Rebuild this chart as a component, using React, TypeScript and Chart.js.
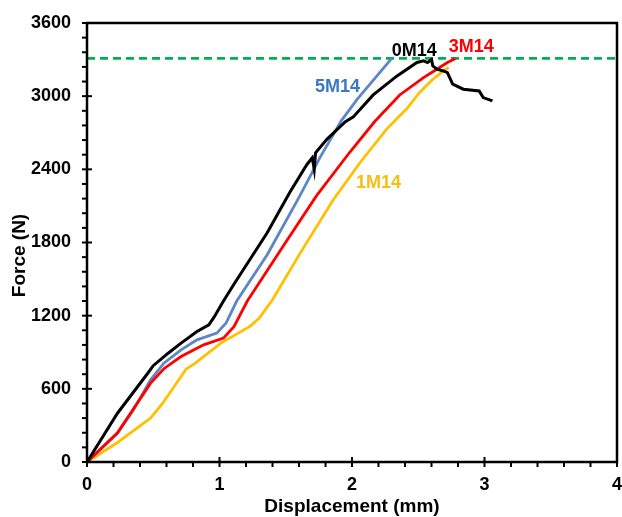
import React, { useEffect, useRef } from 'react';
import { Chart, registerables } from 'chart.js';

Chart.register(...registerables);

// ---- Data (displacement in mm, force in N) ----
const disp0M14 = [0, 0.23, 0.46, 0.5, 0.61, 0.71, 0.83, 0.92, 0.96, 1.03, 1.11, 1.36, 1.53, 1.66, 1.7, 1.715, 1.725, 1.81, 1.95, 2.01, 2.16, 2.34, 2.49, 2.54, 2.57, 2.6, 2.61, 2.64, 2.69, 2.72, 2.76, 2.84, 2.96, 2.99, 3.06];
const force0M14 = [0, 400, 730, 790, 890, 975, 1070, 1125, 1190, 1320, 1460, 1880, 2210, 2440, 2495, 2400, 2536, 2646, 2790, 2830, 3010, 3166, 3276, 3290, 3276, 3300, 3248, 3221, 3207, 3193, 3098, 3057, 3043, 2988, 2961];

const disp5M14 = [0, 0.23, 0.35, 0.48, 0.58, 0.71, 0.83, 0.98, 1.05, 1.13, 1.36, 1.6, 1.76, 1.92, 2.04, 2.3];
const force5M14 = [0, 236, 427, 674, 810, 920, 1002, 1057, 1140, 1320, 1700, 2170, 2500, 2800, 2975, 3310];

const disp3M14 = [0, 0.23, 0.48, 0.58, 0.71, 0.88, 1.03, 1.11, 1.21, 1.48, 1.73, 1.98, 2.17, 2.36, 2.54, 2.64, 2.72, 2.78];
const force3M14 = [0, 240, 647, 765, 865, 961, 1016, 1112, 1320, 1769, 2180, 2536, 2790, 3010, 3152, 3221, 3276, 3309];

const disp1M14 = [0, 0.23, 0.48, 0.57, 0.75, 0.81, 1.01, 1.23, 1.3, 1.4, 1.61, 1.86, 2.06, 2.26, 2.36, 2.41, 2.51, 2.61, 2.69, 2.73];
const force1M14 = [0, 160, 360, 480, 765, 805, 975, 1112, 1180, 1330, 1715, 2153, 2454, 2728, 2840, 2892, 3030, 3139, 3207, 3235];

const thresholdForce = 3310;
const xRange = [0, 4];
const yRange = [0, 3600];
const xStep = 1;
const yStep = 600;
const xMinorStep = 0.2;
const yMinorStep = 120;

const seriesNames = ['0M14', '3M14', '5M14', '1M14'];
const labelX = [2.47, 2.9, 1.89, 2.2];
const labelY = [3370, 3400, 3075, 2290];

const xTitle = 'Displacement (mm)';
const yTitle = 'Force (N)';

const FONT = "'Liberation Sans', Arial, Helvetica, sans-serif";

export default function App() {
  const ref = useRef<HTMLCanvasElement>(null);

  useEffect(() => {
    document.body.style.margin = '0';
    const canvas = ref.current;
    if (!canvas) return;

    const pts = (xs: number[], ys: number[]) => xs.map((x, i) => ({ x, y: ys[i] }));

    const lineColors = ['#000000', '#ff0000', '#5b87c5', '#ffc000'];
    const labelColors = ['#000000', '#ff0000', '#3a78c4', '#f7bd14'];

    const decor = {
      id: 'decor',
      afterDraw(chart: any) {
        const { ctx, chartArea: a, scales } = chart;
        const x = scales.x;
        const y = scales.y;
        ctx.save();
        // frame
        ctx.strokeStyle = '#000';
        ctx.lineWidth = 2.5;
        ctx.strokeRect(a.left, a.top, a.right - a.left, a.bottom - a.top);
        // ticks
        ctx.lineWidth = 2;
        const nx = Math.round((xRange[1] - xRange[0]) / xMinorStep);
        const perMajorX = Math.round(xStep / xMinorStep);
        for (let i = 0; i <= nx; i++) {
          const px = x.getPixelForValue(xRange[0] + i * xMinorStep);
          const major = i % perMajorX === 0;
          ctx.beginPath();
          ctx.moveTo(px, a.bottom + 5);
          ctx.lineTo(px, major ? a.bottom - 5 : a.bottom);
          ctx.stroke();
        }
        const ny = Math.round((yRange[1] - yRange[0]) / yMinorStep);
        const perMajorY = Math.round(yStep / yMinorStep);
        for (let i = 0; i <= ny; i++) {
          const py = y.getPixelForValue(yRange[0] + i * yMinorStep);
          const major = i % perMajorY === 0;
          ctx.beginPath();
          ctx.moveTo(a.left - 5, py);
          ctx.lineTo(major ? a.left + 5 : a.left, py);
          ctx.stroke();
        }
        // series labels
        ctx.font = `bold 18px ${FONT}`;
        ctx.textAlign = 'center';
        ctx.textBaseline = 'middle';
        seriesNames.forEach((name, i) => {
          ctx.fillStyle = labelColors[i];
          ctx.fillText(name, x.getPixelForValue(labelX[i]), y.getPixelForValue(labelY[i]));
        });
        // y title
        ctx.save();
        ctx.translate(20, (a.top + a.bottom) / 2 + 13);
        ctx.rotate(-Math.PI / 2);
        ctx.font = `bold 19px ${FONT}`;
        ctx.fillStyle = '#000';
        ctx.fillText(yTitle, 0, 0);
        ctx.restore();
        ctx.restore();
      },
    };

    const common = { showLine: true, pointRadius: 0, pointHoverRadius: 0, borderWidth: 2.8, tension: 0, fill: false };

    const chart = new Chart(canvas, {
      type: 'scatter',
      data: {
        datasets: [
          { ...common, label: seriesNames[0], data: pts(disp0M14, force0M14), borderColor: lineColors[0], borderWidth: 3, order: 1 },
          { ...common, label: seriesNames[1], data: pts(disp3M14, force3M14), borderColor: lineColors[1], order: 2 },
          { ...common, label: seriesNames[2], data: pts(disp5M14, force5M14), borderColor: lineColors[2], order: 3 },
          { ...common, label: seriesNames[3], data: pts(disp1M14, force1M14), borderColor: lineColors[3], order: 4 },
          {
            ...common,
            label: 'limit',
            data: [{ x: xRange[0], y: thresholdForce }, { x: xRange[1], y: thresholdForce }],
            borderColor: '#00b050',
            borderWidth: 2.6,
            borderDash: [8, 5],
            order: 10,
          },
        ],
      },
      options: {
        responsive: false,
        animation: false,
        devicePixelRatio: 1,
        layout: { padding: { top: 23, right: 5, left: 0, bottom: 0 } },
        plugins: { legend: { display: false }, tooltip: { enabled: false } },
        events: [],
        scales: {
          x: {
            type: 'linear',
            min: xRange[0],
            max: xRange[1],
            grid: { display: false, drawTicks: false },
            border: { display: false },
            ticks: {
              stepSize: xStep,
              padding: 12,
              color: '#000',
              font: { family: FONT, size: 18, weight: 'bold' },
              callback: (v: any) => String(v),
            },
            title: {
              display: true,
              text: xTitle,
              color: '#000',
              font: { family: FONT, size: 19, weight: 'bold', lineHeight: 1 },
              padding: { top: 0, bottom: 1 },
            },
            afterFit: (s: any) => { s.height = 55; s.paddingLeft = 0; s.paddingRight = 0; },
          },
          y: {
            type: 'linear',
            min: yRange[0],
            max: yRange[1],
            grid: { display: false, drawTicks: false },
            border: { display: false },
            ticks: {
              stepSize: yStep,
              padding: 16,
              color: '#000',
              font: { family: FONT, size: 18, weight: 'bold' },
              callback: (v: any) => String(v),
            },
            afterFit: (s: any) => { s.width = 87; s.paddingTop = 0; s.paddingBottom = 0; },
          },
        },
      },
      plugins: [decor],
    } as any);

    return () => chart.destroy();
  }, []);

  return (
    <div style={{ width: 622, height: 517, background: '#fff' }}>
      <canvas ref={ref} width={622} height={517} style={{ display: 'block' }} />
    </div>
  );
}
